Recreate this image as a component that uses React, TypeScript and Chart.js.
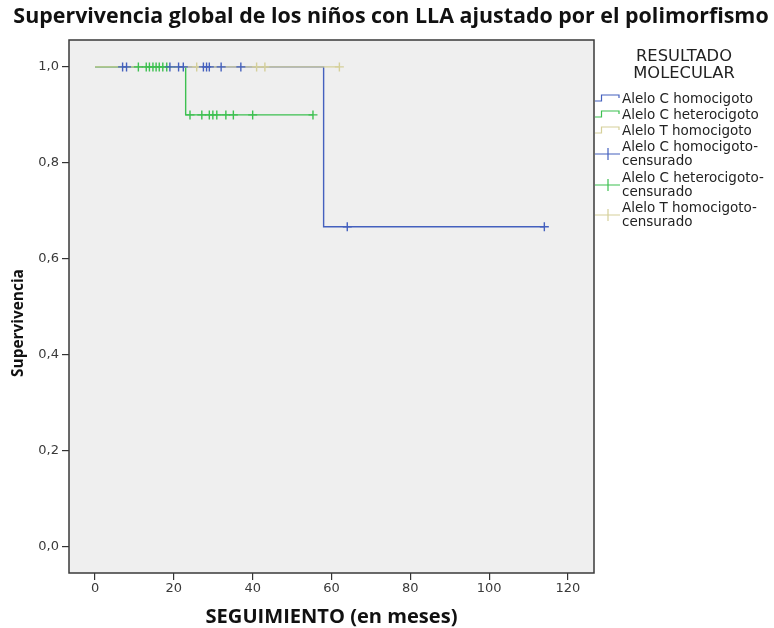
import React, { useEffect, useRef } from "react";
import { Chart, registerables } from "chart.js";

Chart.register(...registerables);

// ---- data ----
const groupNames = ["Alelo C homocigoto", "Alelo C heterocigoto", "Alelo T homocigoto"];
const censoredNames = ["Alelo C homocigoto-", "Alelo C heterocigoto-", "Alelo T homocigoto-"];

const blueTimes = [0, 58, 114];
const blueSurv = [1, 0.667, 0.667];
const blueCensored = [7, 8, 19, 21.2, 22.4, 27.5, 28.3, 29, 32, 37, 64, 114];

const greenTimes = [0, 23, 55.3];
const greenSurv = [1, 0.9, 0.9];
const greenCensored = [11, 13, 13.8, 14.7, 15.5, 16.3, 17.2, 18.2, 24.1, 27.1, 29, 29.9, 30.9, 33.2, 35.1, 40, 55.3];

const yellowTimes = [0, 62];
const yellowSurv = [1, 1];
const yellowCensored = [25.8, 41, 43.1, 62];

const xTicks = [0, 20, 40, 60, 80, 100, 120];
const yTicks = [0, 0.2, 0.4, 0.6, 0.8, 1.0];
const yTickLabels = ["0,0", "0,2", "0,4", "0,6", "0,8", "1,0"];

const titleText = "Supervivencia global de los niños con LLA ajustado por el polimorfismo";
const xTitle = "SEGUIMIENTO (en meses)";
const yTitle = "Supervivencia";
const legendTitle = ["RESULTADO", "MOLECULAR"];

// ---- style ----
const COLORS = ["#4460be", "#3dc050", "#d5d09a"];
const FONT = "'DejaVu Sans', sans-serif";
const BOLD_FONT = "'Open Sans', 'DejaVu Sans', sans-serif";

function survAt(times: number[], surv: number[], t: number) {
  let v = surv[0];
  for (let i = 0; i < times.length; i++) if (times[i] <= t) v = surv[i];
  return v;
}

function fitFont(ctx: CanvasRenderingContext2D, text: string, weight: string, family: string, width: number) {
  ctx.font = `${weight} 20px ${family}`;
  const w = ctx.measureText(text).width;
  return (20 * width) / w;
}

const decorPlugin = {
  id: "decor",
  beforeDraw(chart: any) {
    const { ctx, chartArea: a } = chart;
    ctx.save();
    ctx.fillStyle = "#ffffff";
    ctx.fillRect(0, 0, chart.width, chart.height);
    ctx.fillStyle = "#efefef";
    ctx.fillRect(a.left, a.top, a.right - a.left, a.bottom - a.top);
    ctx.restore();
  },
  afterDraw(chart: any) {
    const { ctx, chartArea: a } = chart;
    ctx.save();
    // frame
    ctx.strokeStyle = "#3a3a3a";
    ctx.lineWidth = 1.5;
    ctx.strokeRect(a.left, a.top, a.right - a.left, a.bottom - a.top);

    // title
    ctx.fillStyle = "#111";
    ctx.textBaseline = "middle";
    ctx.textAlign = "center";
    let s = fitFont(ctx, titleText, "bold", BOLD_FONT, 756);
    ctx.font = `bold ${s}px ${BOLD_FONT}`;
    ctx.fillText(titleText, 391, 17);

    // x title
    s = fitFont(ctx, xTitle, "bold", BOLD_FONT, 252);
    ctx.font = `bold ${s}px ${BOLD_FONT}`;
    ctx.fillText(xTitle, (a.left + a.right) / 2, 617);

    // y title
    s = fitFont(ctx, yTitle, "bold", BOLD_FONT, 108);
    ctx.save();
    ctx.translate(19, 323);
    ctx.rotate(-Math.PI / 2);
    ctx.font = `bold ${s}px ${BOLD_FONT}`;
    ctx.fillText(yTitle, 0, 0);
    ctx.restore();

    // legend
    ctx.fillStyle = "#222";
    s = fitFont(ctx, legendTitle[0], "normal", FONT, 96);
    ctx.font = `${s}px ${FONT}`;
    ctx.textAlign = "center";
    ctx.fillText(legendTitle[0], 684, 57);
    ctx.fillText(legendTitle[1], 684, 74);

    ctx.textAlign = "left";
    s = fitFont(ctx, groupNames[0], "normal", FONT, 131);
    ctx.font = `${s}px ${FONT}`;
    const tx = 622;
    const lineYs = [99, 115, 131];
    lineYs.forEach((y, i) => {
      ctx.strokeStyle = COLORS[i];
      ctx.lineWidth = 1.2;
      ctx.beginPath();
      ctx.moveTo(595, y + 2);
      ctx.lineTo(601.5, y + 2);
      ctx.lineTo(601.5, y - 4);
      ctx.lineTo(619, y - 4);
      ctx.lineTo(619, y - 1);
      ctx.stroke();
      ctx.fillStyle = "#222";
      ctx.fillText(groupNames[i], tx, y);
    });
    const cYs = [147, 178, 208];
    cYs.forEach((y, i) => {
      const my = y + 7;
      ctx.strokeStyle = COLORS[i];
      ctx.lineWidth = 1.2;
      ctx.beginPath();
      ctx.moveTo(595, my);
      ctx.lineTo(620, my);
      ctx.moveTo(608, my - 6);
      ctx.lineTo(608, my + 6);
      ctx.stroke();
      ctx.fillStyle = "#222";
      ctx.fillText(censoredNames[i], tx, y);
      ctx.fillText("censurado", tx, y + 14);
    });
    ctx.restore();
  },
};

function lineData(times: number[], surv: number[]) {
  return times.map((t, i) => ({ x: t, y: surv[i] }));
}
function censorData(c: number[], times: number[], surv: number[]) {
  return c.map((t) => ({ x: t, y: survAt(times, surv, t) }));
}

export default function App() {
  const ref = useRef<HTMLCanvasElement>(null);
  useEffect(() => {
    if (!ref.current) return;
    const lineDs = (data: any, color: string, order: number) => ({
      type: "line" as const,
      data,
      borderColor: color,
      borderWidth: 1.4,
      stepped: true,
      pointRadius: 0,
      fill: false,
      order,
    });
    const censorDs = (data: any, color: string, order: number) => ({
      type: "scatter" as const,
      data,
      borderColor: color,
      backgroundColor: color,
      pointStyle: "cross",
      pointRadius: 4.5,
      pointBorderWidth: 1.4,
      showLine: false,
      order,
    });
    const chart = new Chart(ref.current, {
      type: "line",
      data: {
        datasets: [
          censorDs(censorData(blueCensored, blueTimes, blueSurv), COLORS[0], 1),
          censorDs(censorData(greenCensored, greenTimes, greenSurv), COLORS[1], 2),
          censorDs(censorData(yellowCensored, yellowTimes, yellowSurv), COLORS[2], 3),
          lineDs(lineData(yellowTimes, yellowSurv), COLORS[2], 4),
          lineDs(lineData(greenTimes, greenSurv), COLORS[1], 5),
          lineDs(lineData(blueTimes, blueSurv), COLORS[0], 6),
        ] as any,
      },
      options: {
        animation: false,
        responsive: false,
        maintainAspectRatio: false,
        layout: { padding: { top: 40, right: 180, left: 0, bottom: 0 } },
        plugins: { legend: { display: false }, title: { display: false }, tooltip: { enabled: false } },
        scales: {
          x: {
            type: "linear",
            min: -6.6,
            max: 126.6,
            afterBuildTicks: (sc: any) => {
              sc.ticks = xTicks.map((v) => ({ value: v }));
            },
            afterFit: (sc: any) => {
              sc.height = 55;
            },
            grid: { drawOnChartArea: false, drawTicks: true, tickLength: 7, color: "#333", lineWidth: 1.2 },
            border: { display: false },
            ticks: {
              padding: 1,
              color: "#3a3a3a",
              font: { family: FONT, size: 13 },
              maxRotation: 0,
              autoSkip: false,
            },
          },
          y: {
            type: "linear",
            min: -0.054,
            max: 1.056,
            afterBuildTicks: (sc: any) => {
              sc.ticks = yTicks.map((v) => ({ value: v }));
            },
            afterFit: (sc: any) => {
              sc.width = 69;
            },
            grid: { drawOnChartArea: false, drawTicks: true, tickLength: 7, color: "#333", lineWidth: 1.2 },
            border: { display: false },
            ticks: {
              padding: 3,
              color: "#3a3a3a",
              font: { family: FONT, size: 13 },
              autoSkip: false,
              callback: (v: any) => {
                const i = yTicks.findIndex((t) => Math.abs(t - Number(v)) < 1e-6);
                return i >= 0 ? yTickLabels[i] : "";
              },
            },
          },
        },
      },
      plugins: [decorPlugin],
    });
    return () => chart.destroy();
  }, []);
  return (
    <div style={{ position: "fixed", left: 0, top: 0, width: 774, height: 628, background: "#fff" }}>
      <canvas ref={ref} width={774} height={628} style={{ width: 774, height: 628 }} />
    </div>
  );
}
